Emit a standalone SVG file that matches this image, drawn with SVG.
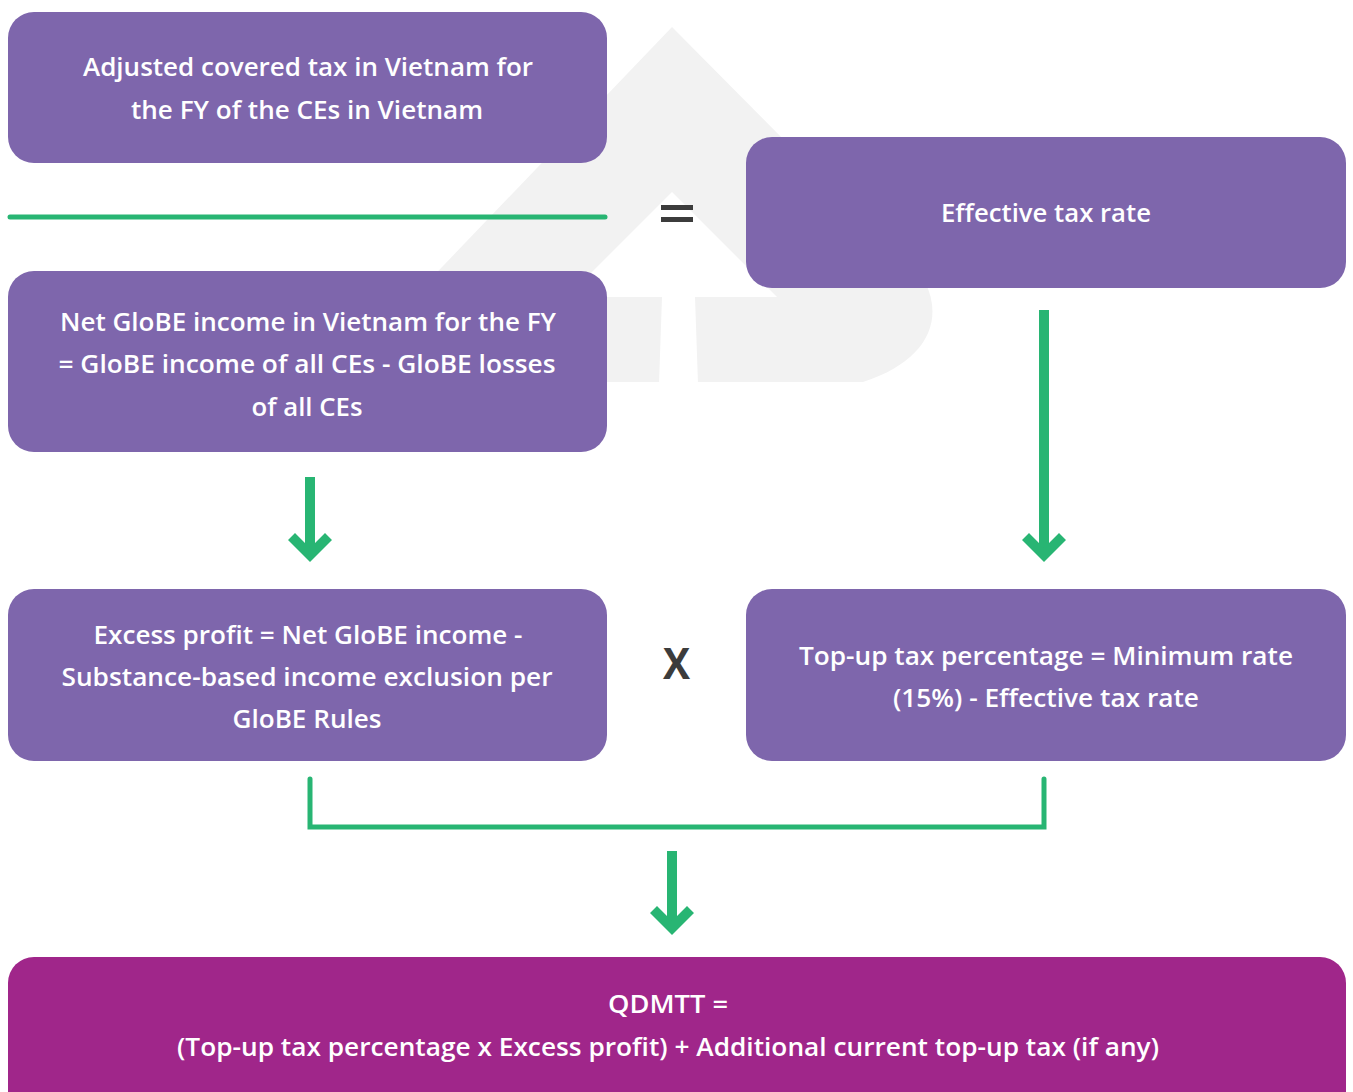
<svg xmlns="http://www.w3.org/2000/svg" width="1353" height="1092" viewBox="0 0 1353 1092">
<defs>
<style>
.box{fill:#7e66ac;}
.box2{fill:#a0268a;}
.t{font-family:"Open Sans","Liberation Sans",sans-serif;font-weight:600;font-size:25px;fill:#ffffff;text-anchor:middle;}
.op{fill:#3c3c3c;}
.ln{fill:none;stroke:#28b573;stroke-width:5;stroke-linecap:round;stroke-linejoin:miter;}
.ar{fill:#28b573;}
</style>
</defs>
<rect width="1353" height="1092" fill="#ffffff"/>
<g id="watermark">
<path d="M672,27 L925,282 C945,322 925,362 863,382 L420,382 L420,290 Z" fill="#f2f2f2"/>
<path d="M672,192 L567,297 L777,297 Z" fill="#ffffff"/>
<path d="M662,297 L695,297 L698,384 L659,384 Z" fill="#ffffff"/>
</g>
<g id="connectors">
<line class="ln" x1="10" y1="217" x2="605" y2="217"/>
<path class="ln" d="M310,779 L310,827 L1044,827 L1044,779"/>
<g id="arrow1">
<rect class="ar" x="305" y="477" width="10" height="74"/>
<polygon class="ar" points="288,540 295,533 310,548 325,533 332,540 310,562"/>
</g>
<g id="arrow2">
<rect class="ar" x="1039" y="310" width="10" height="241"/>
<polygon class="ar" points="1022,540 1029,533 1044,548 1059,533 1066,540 1044,562"/>
</g>
<g id="arrow3">
<rect class="ar" x="667" y="851" width="10" height="74"/>
<polygon class="ar" points="650,913 657,906 672,921 687,906 694,913 672,935"/>
</g>
</g>
<g id="equals">
<rect class="op" x="661" y="205" width="32" height="5"/>
<rect class="op" x="661" y="217" width="32" height="5"/>
</g>
<g id="times">
<text x="676.5" y="679" textLength="27" lengthAdjust="spacingAndGlyphs" style="font-family:'Open Sans','Liberation Sans',sans-serif;font-weight:700;font-size:43px;fill:#3c3c3c;text-anchor:middle;">X</text>
</g>
<g id="node-adjusted-tax">
<rect class="box" x="8" y="12" width="599" height="151" rx="26"/>
<text class="t" x="308" y="76" textLength="450" lengthAdjust="spacingAndGlyphs">Adjusted covered tax in Vietnam for</text>
<text class="t" x="307" y="119" textLength="352" lengthAdjust="spacingAndGlyphs">the FY of the CEs in Vietnam</text>
</g>
<g id="node-etr">
<rect class="box" x="746" y="137" width="600" height="151" rx="26"/>
<text class="t" x="1046" y="222" textLength="210" lengthAdjust="spacingAndGlyphs">Effective tax rate</text>
</g>
<g id="node-net-globe">
<rect class="box" x="8" y="271" width="599" height="181" rx="26"/>
<text class="t" x="308" y="331" textLength="496" lengthAdjust="spacingAndGlyphs">Net GloBE income in Vietnam for the FY</text>
<text class="t" x="307" y="373" textLength="497" lengthAdjust="spacingAndGlyphs">= GloBE income of all CEs - GloBE losses</text>
<text class="t" x="307" y="416" textLength="111" lengthAdjust="spacingAndGlyphs">of all CEs</text>
</g>
<g id="node-excess-profit">
<rect class="box" x="8" y="589" width="599" height="172" rx="26"/>
<text class="t" x="308" y="644" textLength="429" lengthAdjust="spacingAndGlyphs">Excess profit = Net GloBE income -</text>
<text class="t" x="307" y="686" textLength="491" lengthAdjust="spacingAndGlyphs">Substance-based income exclusion per</text>
<text class="t" x="307" y="728" textLength="149" lengthAdjust="spacingAndGlyphs">GloBE Rules</text>
</g>
<g id="node-topup">
<rect class="box" x="746" y="589" width="600" height="172" rx="26"/>
<text class="t" x="1046" y="665" textLength="494" lengthAdjust="spacingAndGlyphs">Top-up tax percentage = Minimum rate</text>
<text class="t" x="1046" y="707" textLength="306" lengthAdjust="spacingAndGlyphs">(15%) - Effective tax rate</text>
</g>
<g id="node-qdmtt">
<rect class="box2" x="8" y="957" width="1338" height="160" rx="26"/>
<text class="t" x="668" y="1013" textLength="120" lengthAdjust="spacingAndGlyphs">QDMTT =</text>
<text class="t" x="668" y="1056" textLength="982" lengthAdjust="spacingAndGlyphs">(Top-up tax percentage x Excess profit) + Additional current top-up tax (if any)</text>
</g>
</svg>
